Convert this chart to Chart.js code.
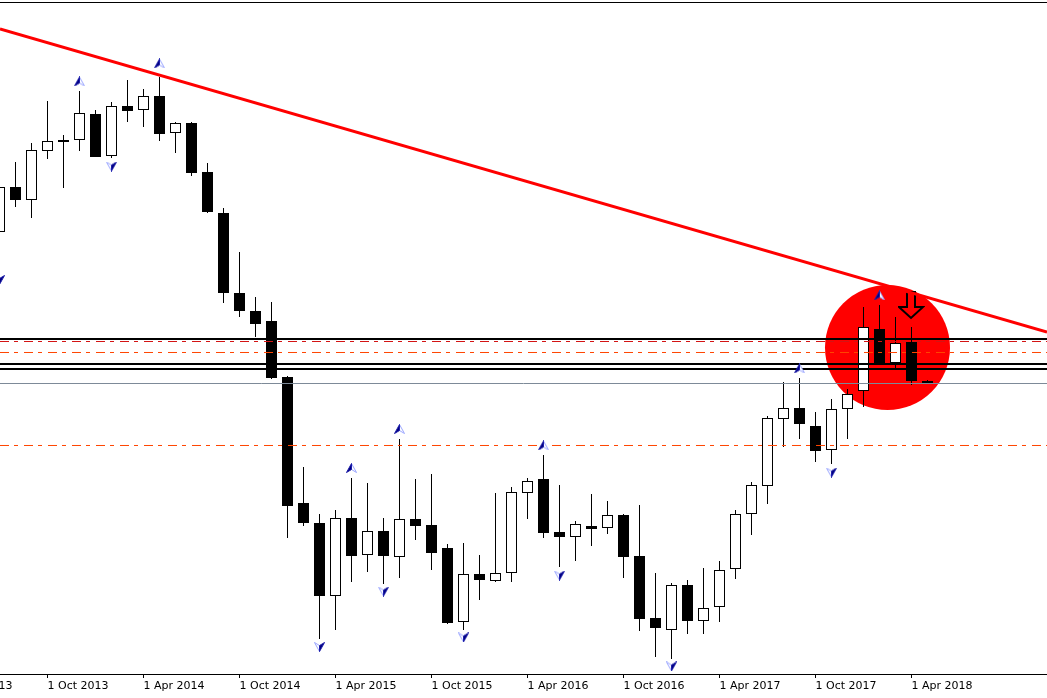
<!DOCTYPE html>
<html>
<head>
<meta charset="utf-8">
<script src="https://cdn.jsdelivr.net/npm/chart.js@4.4.1/dist/chart.umd.min.js"></script>
<style>
html,body{margin:0;padding:0;background:#ffffff;overflow:hidden}
canvas{display:block}
</style>
</head>
<body>
<canvas id="c" width="1047" height="698"></canvas>
<script>
// ---- categories (monthly bars) ----
const months = ['Jul 2013','Aug 2013','Sep 2013','Oct 2013','Nov 2013','Dec 2013',
 'Jan 2014','Feb 2014','Mar 2014','Apr 2014','May 2014','Jun 2014','Jul 2014','Aug 2014','Sep 2014','Oct 2014','Nov 2014','Dec 2014',
 'Jan 2015','Feb 2015','Mar 2015','Apr 2015','May 2015','Jun 2015','Jul 2015','Aug 2015','Sep 2015','Oct 2015','Nov 2015','Dec 2015',
 'Jan 2016','Feb 2016','Mar 2016','Apr 2016','May 2016','Jun 2016','Jul 2016','Aug 2016','Sep 2016','Oct 2016','Nov 2016','Dec 2016',
 'Jan 2017','Feb 2017','Mar 2017','Apr 2017','May 2017','Jun 2017','Jul 2017','Aug 2017','Sep 2017','Oct 2017','Nov 2017','Dec 2017',
 'Jan 2018','Feb 2018','Mar 2018','Apr 2018','May 2018'];

// ---- OHLC series ----
const opens = [1.30201,1.33026,1.32210,1.35285,1.35850,1.35976,
 1.37608,1.34971,1.38110,1.37859,1.38738,1.36415,1.37043,1.33967,1.31394,1.26373,1.25243,1.24615,
 1.21100,1.13192,1.11936,1.07355,1.12250,1.09928,1.11434,1.09802,1.12187,1.11811,1.10367,1.05723,
 1.08735,1.08296,1.08798,1.13819,1.14698,1.11372,1.11058,1.11748,1.11623,1.12439,1.09865,1.05974,
 1.05220,1.08045,1.05785,1.06664,1.09049,1.12501,1.14259,1.18464,1.19155,1.18025,1.16518,1.19092,
 1.20222,1.24113,1.21979,1.23297,1.20849];
const highs = [1.33402,1.34595,1.35788,1.38424,1.36290,1.39051,
 1.37859,1.38361,1.39742,1.39177,1.39930,1.37106,1.37106,1.34532,1.31708,1.28946,1.26122,1.25808,
 1.21163,1.15451,1.12501,1.12752,1.14761,1.14447,1.12250,1.17209,1.14698,1.15012,1.10618,1.10681,
 1.09928,1.13819,1.14196,1.14761,1.16205,1.14322,1.12062,1.13757,1.13317,1.12501,1.13066,1.08798,
 1.08170,1.08359,1.09112,1.09551,1.12752,1.14510,1.18652,1.20786,1.21038,1.18903,1.19719,1.20347,
 1.25494,1.25619,1.24866,1.24239,1.20912];
const lows = [1.27691,1.31770,1.31080,1.34783,1.32963,1.35285,
 1.34909,1.34846,1.37106,1.36792,1.35913,1.35160,1.33716,1.31394,1.25745,1.24866,1.23611,1.20975,
 1.10995,1.11748,1.04656,1.05220,1.08233,1.08861,1.08108,1.08484,1.10869,1.08986,1.05597,1.05220,
 1.07103,1.08233,1.08233,1.12187,1.10995,1.09175,1.09551,1.10493,1.11246,1.08484,1.05158,1.03526,
 1.03400,1.04969,1.04969,1.05723,1.08422,1.11183,1.13129,1.16707,1.17209,1.15765,1.15640,1.17209,
 1.19217,1.21916,1.21665,1.20598,1.20661];
const closes = [1.33026,1.32210,1.35348,1.35913,1.35976,1.37670,
 1.34909,1.38110,1.37796,1.38738,1.36352,1.37043,1.33904,1.31457,1.26373,1.25243,1.24427,1.21038,
 1.13003,1.11936,1.07355,1.12250,1.09865,1.11434,1.09865,1.12187,1.11748,1.10053,1.05660,1.08735,
 1.08359,1.08798,1.13882,1.14573,1.11309,1.11058,1.11874,1.11560,1.12439,1.09802,1.05911,1.05346,
 1.08045,1.05785,1.06601,1.08986,1.12501,1.14322,1.18527,1.19155,1.18150,1.16456,1.19092,1.20033,
 1.24239,1.21979,1.23234,1.20849,1.20661];

// ---- x-axis tick labels (month positions in the months list) ----
const tickMonths = [-3,3,9,15,21,27,33,39,45,51,57];
const tickLabels = ['1 Apr 2013','1 Oct 2013','1 Apr 2014','1 Oct 2014','1 Apr 2015','1 Oct 2015',
 '1 Apr 2016','1 Oct 2016','1 Apr 2017','1 Oct 2017','1 Apr 2018'];

// ---- fractal markers ----
const fractalUpMonths = ['Dec 2013','May 2014','May 2015','Aug 2015','May 2016','Sep 2017','Feb 2018'];
const fractalUpValues = [1.39648,1.40777,1.15389,1.17836,1.16801,1.21634,1.26216];
const fractalDownMonths = ['Jul 2013','Feb 2014','Mar 2015','Jul 2015','Dec 2015','Jun 2016','Jan 2017','Nov 2017'];
const fractalDownValues = [1.27189,1.34312,1.04153,1.07637,1.04750,1.08641,1.02930,1.15106];

// ---- drawn objects ----
const signalMonths = ['Apr 2018'];
const signalValues = [1.25588];
const zoneMonth = [55.5];
const zoneValue = [1.22952];
const trendValues = [1.42943, 1.23925];
const levelsBlack = [1.23485, 1.21916, 1.21602];
const levelsRed = [1.23328];
const levelsOrange = [1.22638, 1.16801];
const levelsGray = [1.20692];

// ---- view range ----
const XMIN = 0.03125, XMAX = 65.46875;
const YMIN = 1.02459, YMAX = 1.44637;

function fractalGlyph(up){
  const c = document.createElement('canvas'); c.width = 11; c.height = 10;
  const g = c.getContext('2d'); g.lineWidth = 1;
  if (up){
    g.beginPath(); g.moveTo(5.5,0.5); g.lineTo(10.5,9.5); g.lineTo(5.5,6.5); g.closePath();
    g.fillStyle = '#ffffff'; g.fill(); g.strokeStyle = '#9aa6ff'; g.stroke();
    g.beginPath(); g.moveTo(5.5,0.5); g.lineTo(5.5,6.5); g.lineTo(0.5,9.5); g.closePath();
    g.fillStyle = '#000080'; g.fill(); g.strokeStyle = '#1c1ca8'; g.stroke();
  } else {
    g.beginPath(); g.moveTo(5.5,9.5); g.lineTo(0.5,0.5); g.lineTo(5.5,3.5); g.closePath();
    g.fillStyle = '#ffffff'; g.fill(); g.strokeStyle = '#9aa6ff'; g.stroke();
    g.beginPath(); g.moveTo(5.5,9.5); g.lineTo(5.5,3.5); g.lineTo(10.5,0.5); g.closePath();
    g.fillStyle = '#000080'; g.fill(); g.strokeStyle = '#1c1ca8'; g.stroke();
  }
  return c;
}
function signalGlyph(){
  const c = document.createElement('canvas'); c.width = 27; c.height = 29;
  const g = c.getContext('2d');
  g.lineWidth = 2; g.strokeStyle = '#000000'; g.lineJoin = 'miter';
  g.beginPath();
  g.moveTo(9,1); g.lineTo(17,1); g.lineTo(17,16); g.lineTo(25,16); g.lineTo(13,27);
  g.lineTo(1,16); g.lineTo(9,16); g.closePath(); g.stroke();
  return c;
}

const idx = months.map((m,i)=>i);
const hline = (v, color, width, dash) => ({
  type:'line', data:[{x:XMIN,y:v},{x:XMAX,y:v}], borderColor:color, borderWidth:width,
  borderDash:dash||[], pointRadius:0, fill:false, xAxisID:'x', yAxisID:'y'
});
const dashDot = [9,5,4,6];

const datasets = [
  {type:'line', data:[{x:XMIN,y:trendValues[0]},{x:XMAX,y:trendValues[1]}], borderColor:'#ff0000',
   borderWidth:3, pointRadius:0, fill:false, xAxisID:'x', yAxisID:'y'},
  {type:'line', showLine:false, data: signalMonths.map((m,i)=>({x:months.indexOf(m), y:signalValues[i]})),
   pointStyle: signalGlyph(), pointRadius:10, xAxisID:'x', yAxisID:'y'},
  {type:'line', showLine:false, data: fractalUpMonths.map((m,i)=>({x:months.indexOf(m), y:fractalUpValues[i]})),
   pointStyle: fractalGlyph(true), pointRadius:6, xAxisID:'x', yAxisID:'y'},
  {type:'line', showLine:false, data: fractalDownMonths.map((m,i)=>({x:months.indexOf(m), y:fractalDownValues[i]})),
   pointStyle: fractalGlyph(false), pointRadius:6, xAxisID:'x', yAxisID:'y'},
  ...levelsBlack.map(v => hline(v, '#000000', 2)),
  ...levelsRed.map(v => hline(v, '#d41414', 1, dashDot)),
  ...levelsOrange.map(v => hline(v, '#ff4500', 1, dashDot)),
  ...levelsGray.map(v => hline(v, '#7d8a98', 1)),
  {type:'bar', data: idx.map(i=>({x:i, y:[opens[i], closes[i]]})),
   backgroundColor: idx.map(i => closes[i] >= opens[i] ? '#ffffff' : '#000000'),
   borderColor:'#000000', borderWidth:1, borderSkipped:false, inflateAmount:0,
   barThickness:11, maxBarThickness:11, grouped:false, xAxisID:'x', yAxisID:'y'},
  {type:'bar', data: idx.map(i=>({x:i, y:[lows[i], highs[i]]})),
   backgroundColor:'#000000', borderWidth:0, inflateAmount:0,
   barThickness:1, maxBarThickness:1, grouped:false, xAxisID:'x', yAxisID:'y'},
  {type:'line', showLine:false, data: zoneMonth.map((m,i)=>({x:m, y:zoneValue[i]})),
   pointStyle:'circle', pointRadius:62.5, pointBackgroundColor:'#ff0000', pointBorderWidth:0,
   backgroundColor:'#ff0000', borderWidth:0, xAxisID:'x', yAxisID:'y'}
];

new Chart(document.getElementById('c'), {
  type:'bar',
  data:{ datasets },
  options:{
    responsive:false, animation:false, devicePixelRatio:1, events:[],
    layout:{ padding:0, autoPadding:false },
    plugins:{ legend:{display:false}, tooltip:{enabled:false} },
    scales:{
      x:{ type:'linear', position:'bottom', min:XMIN, max:XMAX, offset:false,
        afterBuildTicks: s => { s.ticks = tickMonths.map(v => ({value:v})); },
        afterFit: s => { s.height = 24; s.paddingLeft = 0; s.paddingRight = 0; },
        ticks:{ autoSkip:false, maxRotation:0, minRotation:0, align:'start', padding:2, color:'#000000',
          font:{family:'"DejaVu Sans", sans-serif', size:11},
          callback:(v,i) => tickLabels[i] },
        grid:{ display:true, drawOnChartArea:false, drawTicks:true, tickLength:4, color:'#000000', lineWidth:1, offset:false },
        border:{ display:true, color:'#000000', width:1 } },
      x2:{ type:'linear', position:'top', min:XMIN, max:XMAX, offset:false,
        afterFit: s => { s.height = 2; s.paddingLeft = 0; s.paddingRight = 0; },
        ticks:{ display:false },
        grid:{ display:true, drawOnChartArea:false, drawTicks:false },
        border:{ display:true, color:'#000000', width:1 } },
      y:{ type:'linear', display:false, min:YMIN, max:YMAX }
    }
  }
});
</script>
</body>
</html>
